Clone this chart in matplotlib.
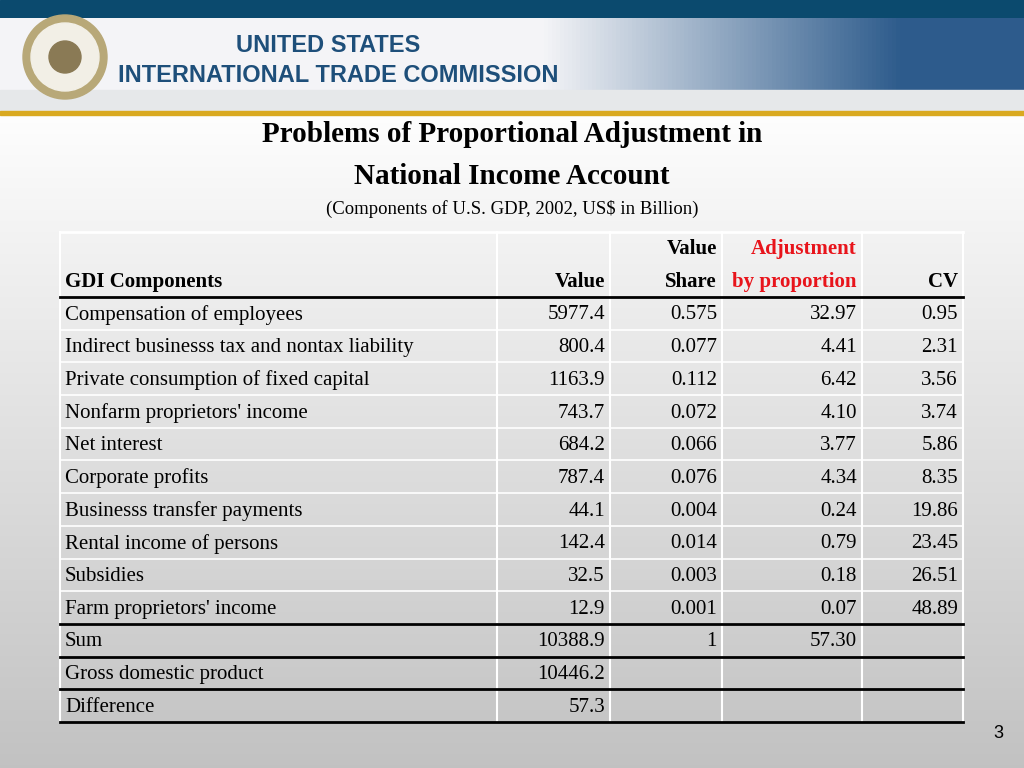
import matplotlib
matplotlib.use("Agg")
import matplotlib.pyplot as plt
import numpy as np
from matplotlib.patches import Rectangle, Circle

components = ["Compensation of employees", "Indirect businesss tax and nontax liability",
              "Private consumption of fixed capital", "Nonfarm proprietors' income", "Net interest",
              "Corporate profits", "Businesss transfer payments", "Rental income of persons",
              "Subsidies", "Farm proprietors' income"]
values = ["5977.4", "800.4", "1163.9", "743.7", "684.2", "787.4", "44.1", "142.4", "32.5", "12.9"]
shares = ["0.575", "0.077", "0.112", "0.072", "0.066", "0.076", "0.004", "0.014", "0.003", "0.001"]
adjust = ["32.97", "4.41", "6.42", "4.10", "3.77", "4.34", "0.24", "0.79", "0.18", "0.07"]
cvs = ["0.95", "2.31", "3.56", "3.74", "5.86", "8.35", "19.86", "23.45", "26.51", "48.89"]
summary_labels = ["Sum", "Gross domestic product", "Difference"]
summary_values = ["10388.9", "10446.2", "57.3"]
summary_shares = ["1", "", ""]
summary_adjust = ["57.30", "", ""]

fig = plt.figure(figsize=(10.24, 7.68), dpi=100)
ax = fig.add_axes([0, 0, 1, 1])
ax.set_xlim(0, 1024); ax.set_ylim(768, 0); ax.axis("off")

grad = np.linspace(0, 1, 256)[:, None]
cols = np.stack([1 - 0.24 * grad, 1 - 0.24 * grad, 1 - 0.24 * grad], axis=-1) * np.ones((1, 2, 1))
ax.imshow(cols, extent=[0, 1024, 768, 100], aspect="auto", zorder=0)
ax.add_patch(Rectangle((0, 0), 1024, 18, color="#0b4a6e", zorder=1))
bgrad = np.linspace(0, 1, 256)[None, :]
bc = np.zeros((2, 256, 3))
c1 = np.array([0.96, 0.96, 0.97]); c2 = np.array([0.18, 0.36, 0.55])
w = np.clip((bgrad[0] - 0.53) / 0.35, 0, 1)[:, None]
bc[:] = c1 * (1 - w) + c2 * w
ax.imshow(bc, extent=[0, 1024, 90, 18], aspect="auto", zorder=1)
ax.add_patch(Rectangle((0, 90), 1024, 21, color="#e6e8ea", zorder=1))
ax.add_patch(Rectangle((0, 111), 1024, 4, color="#d9a920", zorder=1))
ax.add_patch(Circle((65, 57), 42, color="#b8a878", zorder=2))
ax.add_patch(Circle((65, 57), 34, color="#f2efe6", zorder=3))
ax.add_patch(Circle((65, 57), 16, color="#8a7a55", zorder=4))
ax.text(236, 45, "UNITED STATES", fontsize=17, color="#1e4f7a", fontweight="bold",
        fontfamily="Liberation Sans", va="center", zorder=5)
ax.text(118, 76, "INTERNATIONAL TRADE COMMISSION", fontsize=17, color="#1e4f7a", fontweight="bold",
        fontfamily="Liberation Sans", va="center", zorder=5)

serif = "Liberation Serif"
ax.text(512, 135, "Problems of Proportional Adjustment in", fontsize=21, fontweight="bold",
        fontfamily=serif, ha="center", va="center")
ax.text(512, 176, "National Income Account", fontsize=21, fontweight="bold",
        fontfamily=serif, ha="center", va="center")
ax.text(512, 209, "(Components of U.S. GDP, 2002, US$ in Billion)", fontsize=13.5,
        fontfamily=serif, ha="center", va="center")

xb = [60, 497, 610, 722, 862, 963]
top, hdr = 232, 297
rh = (722 - 297) / 13
for x in xb:
    ax.plot([x, x], [top, 722], color="white", lw=1.5, zorder=2)
ax.plot([60, 963], [top, top], color="white", lw=2, zorder=2)
for i in range(10):
    y = hdr + rh * (i + 1)
    ax.plot([60, 963], [y, y], color="white", lw=1.2, zorder=2)
ax.plot([60, 963], [hdr, hdr], color="black", lw=2, zorder=3)
for i in range(10, 14):
    y = hdr + rh * i
    ax.plot([60, 963], [y, y], color="black", lw=2, zorder=3)

fs = 15
ax.text(65, 282, "GDI Components", fontsize=fs, fontweight="bold", fontfamily=serif, va="center")
ax.text(605, 282, "Value", fontsize=fs, fontweight="bold", fontfamily=serif, va="center", ha="right")
ax.text(717, 249, "Value", fontsize=fs, fontweight="bold", fontfamily=serif, va="center", ha="right")
ax.text(717, 282, "Share", fontsize=fs, fontweight="bold", fontfamily=serif, va="center", ha="right")
ax.text(857, 249, "Adjustment", fontsize=fs, fontweight="bold", fontfamily=serif, va="center", ha="right", color="#e8141b")
ax.text(857, 282, "by proportion", fontsize=fs, fontweight="bold", fontfamily=serif, va="center", ha="right", color="#e8141b")
ax.text(958, 282, "CV", fontsize=fs, fontweight="bold", fontfamily=serif, va="center", ha="right")

rows = list(zip(components, values, shares, adjust, cvs)) + \
    list(zip(summary_labels, summary_values, summary_shares, summary_adjust, ["", "", ""]))
for i, (c, v, s, a, cv) in enumerate(rows):
    y = hdr + rh * (i + 0.55)
    ax.text(65, y, c, fontsize=fs, fontfamily=serif, va="center")
    for txt, x in zip([v, s, a, cv], [605, 717, 857, 958]):
        ax.text(x, y, txt, fontsize=fs, fontfamily=serif, va="center", ha="right")

ax.text(998, 734, "3", fontsize=13, fontfamily="Liberation Sans", ha="center", va="center")
fig.savefig("out.png", dpi=100)
